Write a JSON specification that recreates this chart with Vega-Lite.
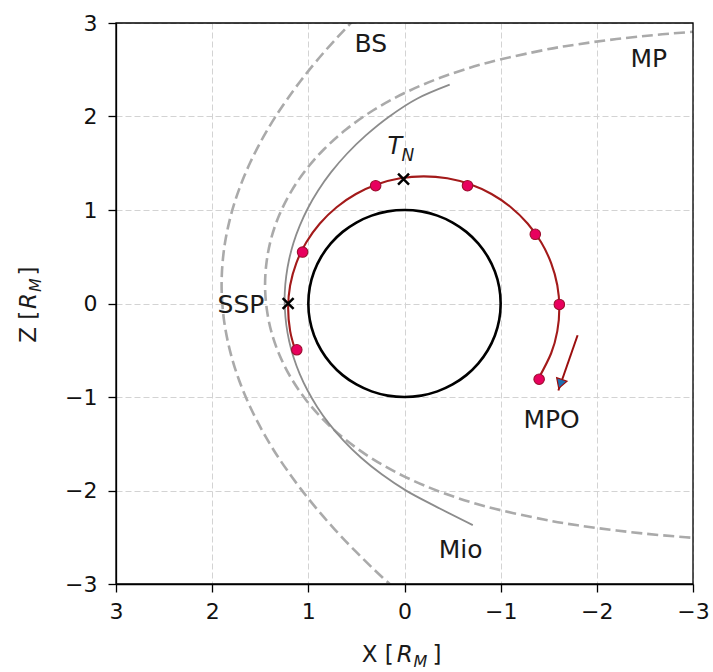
{
  "$schema": "https://vega.github.io/schema/vega-lite/v6.json",
  "width": 577,
  "height": 561,
  "autosize": {"type": "none"},
  "padding": {"left": 116, "top": 23, "right": 20, "bottom": 88},
  "background": "white",
  "view": {"stroke": null},
  "config": {
    "font": "DejaVu Sans",
    "axis": {
      "grid": true,
      "gridColor": "#d3d3d3",
      "gridDash": [6, 3],
      "gridWidth": 1,
      "domainColor": "black",
      "domainWidth": 1.3,
      "tickColor": "black",
      "tickWidth": 1.3,
      "tickSize": 8,
      "labelFont": "DejaVu Sans",
      "labelFontSize": 22,
      "labelColor": "#111111",
      "labelFlush": false,
      "labelOverlap": false,
      "title": null
    }
  },
  "datasets": {
    "frame": [{"X": 3, "X2": -3, "Z": -3, "Z2": 3}],
    "mercury": [
      {"i":0,"X":1,"Z":0},{"i":1,"X":0.985,"Z":0.174},{"i":2,"X":0.94,"Z":0.342},{"i":3,"X":0.866,"Z":0.5},
      {"i":4,"X":0.766,"Z":0.643},{"i":5,"X":0.643,"Z":0.766},{"i":6,"X":0.5,"Z":0.866},{"i":7,"X":0.342,"Z":0.94},
      {"i":8,"X":0.174,"Z":0.985},{"i":9,"X":0,"Z":1},{"i":10,"X":-0.174,"Z":0.985},{"i":11,"X":-0.342,"Z":0.94},
      {"i":12,"X":-0.5,"Z":0.866},{"i":13,"X":-0.643,"Z":0.766},{"i":14,"X":-0.766,"Z":0.643},{"i":15,"X":-0.866,"Z":0.5},
      {"i":16,"X":-0.94,"Z":0.342},{"i":17,"X":-0.985,"Z":0.174},{"i":18,"X":-1,"Z":0},{"i":19,"X":-0.985,"Z":-0.174},
      {"i":20,"X":-0.94,"Z":-0.342},{"i":21,"X":-0.866,"Z":-0.5},{"i":22,"X":-0.766,"Z":-0.643},{"i":23,"X":-0.643,"Z":-0.766},
      {"i":24,"X":-0.5,"Z":-0.866},{"i":25,"X":-0.342,"Z":-0.94},{"i":26,"X":-0.174,"Z":-0.985},{"i":27,"X":0,"Z":-1},
      {"i":28,"X":0.174,"Z":-0.985},{"i":29,"X":0.342,"Z":-0.94},{"i":30,"X":0.5,"Z":-0.866},{"i":31,"X":0.643,"Z":-0.766},
      {"i":32,"X":0.766,"Z":-0.643},{"i":33,"X":0.866,"Z":-0.5},{"i":34,"X":0.94,"Z":-0.342},{"i":35,"X":0.985,"Z":-0.174}
    ],
    "bs": [
      {"i":0,"X":-0.106,"Z":3.637},{"i":1,"X":0.226,"Z":3.333},{"i":2,"X":0.5,"Z":3.06},{"i":3,"X":0.729,"Z":2.812},
      {"i":4,"X":0.921,"Z":2.586},{"i":5,"X":1.083,"Z":2.377},{"i":6,"X":1.2215,"Z":2.182},{"i":7,"X":1.34,"Z":2.001},
      {"i":8,"X":1.441,"Z":1.83},{"i":9,"X":1.5275,"Z":1.667},{"i":10,"X":1.602,"Z":1.513},{"i":11,"X":1.665,"Z":1.365},
      {"i":12,"X":1.719,"Z":1.223},{"i":13,"X":1.765,"Z":1.086},{"i":14,"X":1.803,"Z":0.952},{"i":15,"X":1.834,"Z":0.822},
      {"i":16,"X":1.859,"Z":0.695},{"i":17,"X":1.878,"Z":0.569},{"i":18,"X":1.891,"Z":0.445},{"i":19,"X":1.899,"Z":0.322},
      {"i":20,"X":1.902,"Z":0.2},{"i":21,"X":1.899,"Z":0.078},{"i":22,"X":1.891,"Z":-0.045},{"i":23,"X":1.878,"Z":-0.169},
      {"i":24,"X":1.859,"Z":-0.295},{"i":25,"X":1.834,"Z":-0.422},{"i":26,"X":1.803,"Z":-0.552},{"i":27,"X":1.765,"Z":-0.686},
      {"i":28,"X":1.719,"Z":-0.823},{"i":29,"X":1.665,"Z":-0.965},{"i":30,"X":1.602,"Z":-1.113},{"i":31,"X":1.5275,"Z":-1.267},
      {"i":32,"X":1.441,"Z":-1.43},{"i":33,"X":1.34,"Z":-1.601},{"i":34,"X":1.2215,"Z":-1.782},{"i":35,"X":1.083,"Z":-1.977},
      {"i":36,"X":0.921,"Z":-2.186},{"i":37,"X":0.729,"Z":-2.412},{"i":38,"X":0.5,"Z":-2.66},{"i":39,"X":0.226,"Z":-2.933},
      {"i":40,"X":-0.106,"Z":-3.237}
    ],
    "mp": [
      {"i":0,"X":-3.248,"Z":2.925},{"i":1,"X":-2.679,"Z":2.879},{"i":2,"X":-2.205,"Z":2.828},{"i":3,"X":-1.801,"Z":2.772},
      {"i":4,"X":-1.45,"Z":2.711},{"i":5,"X":-0.865,"Z":2.576},{"i":6,"X":-0.392,"Z":2.422},{"i":7,"X":0,"Z":2.251},
      {"i":8,"X":0.329,"Z":2.064},{"i":9,"X":0.605,"Z":1.863},{"i":10,"X":0.837,"Z":1.65},{"i":11,"X":1.028,"Z":1.426},
      {"i":12,"X":1.182,"Z":1.192},{"i":13,"X":1.3,"Z":0.951},{"i":14,"X":1.384,"Z":0.704},{"i":15,"X":1.433,"Z":0.453},
      {"i":16,"X":1.45,"Z":0.2},{"i":17,"X":1.433,"Z":-0.053},{"i":18,"X":1.384,"Z":-0.304},{"i":19,"X":1.3,"Z":-0.551},
      {"i":20,"X":1.182,"Z":-0.792},{"i":21,"X":1.028,"Z":-1.026},{"i":22,"X":0.837,"Z":-1.25},{"i":23,"X":0.605,"Z":-1.463},
      {"i":24,"X":0.329,"Z":-1.664},{"i":25,"X":0,"Z":-1.851},{"i":26,"X":-0.392,"Z":-2.022},{"i":27,"X":-0.865,"Z":-2.176},
      {"i":28,"X":-1.45,"Z":-2.311},{"i":29,"X":-1.801,"Z":-2.372},{"i":30,"X":-2.205,"Z":-2.428},{"i":31,"X":-2.679,"Z":-2.479},
      {"i":32,"X":-3.248,"Z":-2.525}
    ],
    "mio": [
      {"i":0,"X":-0.71,"Z":-2.37},{"i":1,"X":-0.328,"Z":-2.172},{"i":2,"X":-0.021,"Z":-2.004},{"i":3,"X":0.237,"Z":-1.827},
      {"i":4,"X":0.454,"Z":-1.647},{"i":5,"X":0.634,"Z":-1.466},{"i":6,"X":0.785,"Z":-1.285},{"i":7,"X":0.908,"Z":-1.106},
      {"i":8,"X":1.009,"Z":-0.928},{"i":9,"X":1.09,"Z":-0.752},{"i":10,"X":1.153,"Z":-0.577},{"i":11,"X":1.199,"Z":-0.403},
      {"i":12,"X":1.229,"Z":-0.23},{"i":13,"X":1.244,"Z":-0.057},{"i":14,"X":1.245,"Z":0.118},{"i":15,"X":1.23,"Z":0.293},
      {"i":16,"X":1.2,"Z":0.47},{"i":17,"X":1.154,"Z":0.65},{"i":18,"X":1.089,"Z":0.833},{"i":19,"X":1.005,"Z":1.019},
      {"i":20,"X":0.898,"Z":1.209},{"i":21,"X":0.765,"Z":1.402},{"i":22,"X":0.601,"Z":1.599},{"i":23,"X":0.402,"Z":1.798},
      {"i":24,"X":0.161,"Z":1.998},{"i":25,"X":-0.13,"Z":2.19},{"i":26,"X":-0.47,"Z":2.34}
    ],
    "mpo": [
      {"i":0,"X":1.133,"Z":-0.509},{"i":1,"X":1.189,"Z":-0.295},{"i":2,"X":1.21,"Z":-0.05},{"i":3,"X":1.189,"Z":0.195},
      {"i":4,"X":1.125,"Z":0.432},{"i":5,"X":1.021,"Z":0.655},{"i":6,"X":0.88,"Z":0.856},{"i":7,"X":0.706,"Z":1.03},
      {"i":8,"X":0.505,"Z":1.171},{"i":9,"X":0.282,"Z":1.275},{"i":10,"X":0.045,"Z":1.339},{"i":11,"X":-0.2,"Z":1.36},
      {"i":12,"X":-0.445,"Z":1.339},{"i":13,"X":-0.682,"Z":1.275},{"i":14,"X":-0.905,"Z":1.171},{"i":15,"X":-1.106,"Z":1.03},
      {"i":16,"X":-1.28,"Z":0.856},{"i":17,"X":-1.421,"Z":0.655},{"i":18,"X":-1.525,"Z":0.432},{"i":19,"X":-1.589,"Z":0.195},
      {"i":20,"X":-1.61,"Z":-0.05},{"i":21,"X":-1.589,"Z":-0.295},{"i":22,"X":-1.525,"Z":-0.532},{"i":23,"X":-1.396,"Z":-0.797}
    ],
    "markers": [
      {"X":1.12,"Z":-0.495},{"X":1.06,"Z":0.55},{"X":0.3,"Z":1.26},{"X":-0.655,"Z":1.26},
      {"X":-1.36,"Z":0.74},{"X":-1.61,"Z":-0.01},{"X":-1.4,"Z":-0.81}
    ],
    "crosses": [{"name":"SSP","X":1.21,"Z":0.0},{"name":"TN","X":0.01,"Z":1.33}],
    "arrow": [{"X":-1.8,"Z":-0.34,"X2":-1.6,"Z2":-0.93}],
    "arrowhead": [{"X":-1.62,"Z":-0.86}],
    "labels": [
      {"t":"BS","X":0.35,"Z":2.78},{"t":"MP","X":-2.54,"Z":2.62},{"t":"SSP","X":1.7,"Z":-0.02},
      {"t":"MPO","X":-1.53,"Z":-1.245},{"t":"Mio","X":-0.583,"Z":-2.64}
    ],
    "tnT": [{"t":"T","X":0.1,"Z":1.67}],
    "tnN": [{"t":"N","X":-0.035,"Z":1.575}],
    "xtitleNormal": [{"t":"X [","X":0.444,"Z":-3.83},{"t":"]","X":-0.29,"Z":-3.83}],
    "xtitleR": [{"t":"R","X":0.08,"Z":-3.83}],
    "xtitleM": [{"t":"M","X":-0.093,"Z":-3.885}],
    "ytitleNormal": [{"t":"Z [","X":3.83,"Z":-0.42},{"t":"]","X":3.83,"Z":0.3}],
    "ytitleR": [{"t":"R","X":3.83,"Z":-0.058}],
    "ytitleM": [{"t":"M","X":3.785,"Z":0.122}]
  },
  "encoding": {
    "x": {
      "field": "X", "type": "quantitative",
      "scale": {"domain": [3, -3], "nice": false, "zero": false},
      "axis": {"values": [3, 2, 1, 0, -1, -2, -3], "labelPadding": 9, "format": "d"}
    },
    "y": {
      "field": "Z", "type": "quantitative",
      "scale": {"domain": [-3, 3], "nice": false, "zero": false},
      "axis": {"values": [-3, -2, -1, 0, 1, 2, 3], "labelPadding": 11, "format": "d"}
    }
  },
  "layer": [
    {"data": {"name": "bs"}, "mark": {"type": "line", "clip": true, "color": "#aaaaaa", "strokeWidth": 2.6, "strokeDash": [11, 5], "interpolate": "cardinal"},
     "encoding": {"order": {"field": "i", "type": "quantitative"}}},
    {"data": {"name": "mp"}, "mark": {"type": "line", "clip": true, "color": "#aaaaaa", "strokeWidth": 2.6, "strokeDash": [11, 5], "interpolate": "cardinal"},
     "encoding": {"order": {"field": "i", "type": "quantitative"}}},
    {"data": {"name": "mio"}, "mark": {"type": "line", "clip": true, "color": "#8c8c8c", "strokeWidth": 1.8, "interpolate": "cardinal"},
     "encoding": {"order": {"field": "i", "type": "quantitative"}}},
    {"data": {"name": "mercury"}, "mark": {"type": "line", "clip": true, "color": "black", "strokeWidth": 2.6, "interpolate": "cardinal-closed"},
     "encoding": {"order": {"field": "i", "type": "quantitative"}}},
    {"data": {"name": "mpo"}, "mark": {"type": "line", "clip": true, "color": "#a31a1a", "strokeWidth": 2.1, "interpolate": "cardinal"},
     "encoding": {"order": {"field": "i", "type": "quantitative"}}},
    {"data": {"name": "markers"}, "mark": {"type": "point", "filled": true, "fill": "#e8005e", "stroke": "#9c0f2e", "strokeWidth": 1.1, "size": 110, "opacity": 1}},
    {"data": {"name": "crosses"}, "mark": {"type": "point", "shape": "M-1,-1L1,1M-1,1L1,-1", "filled": false, "stroke": "black", "strokeWidth": 2.5, "size": 120, "opacity": 1}},
    {"data": {"name": "arrow"}, "mark": {"type": "rule", "color": "#9b0d0d", "strokeWidth": 2},
     "encoding": {"x2": {"field": "X2"}, "y2": {"field": "Z2"}}},
    {"data": {"name": "arrowhead"}, "mark": {"type": "point", "shape": "triangle-up", "filled": true, "fill": "#1f6fb0", "stroke": "#9b0d0d", "strokeWidth": 1.2, "size": 120, "angle": 199, "opacity": 1}},
    {"data": {"name": "frame"}, "mark": {"type": "rect", "fill": null, "fillOpacity": 0, "stroke": "black", "strokeWidth": 1.3},
     "encoding": {"x2": {"field": "X2"}, "y2": {"field": "Z2"}}},
    {"data": {"name": "labels"}, "mark": {"type": "text", "font": "DejaVu Sans", "fontSize": 25, "color": "#1a1a1a", "align": "center", "baseline": "middle"},
     "encoding": {"text": {"field": "t"}}},
    {"data": {"name": "tnT"}, "mark": {"type": "text", "font": "DejaVu Sans", "fontStyle": "italic", "fontSize": 24, "color": "#1a1a1a", "align": "center", "baseline": "middle"},
     "encoding": {"text": {"field": "t"}}},
    {"data": {"name": "tnN"}, "mark": {"type": "text", "font": "DejaVu Sans", "fontStyle": "italic", "fontSize": 17, "color": "#1a1a1a", "align": "center", "baseline": "middle"},
     "encoding": {"text": {"field": "t"}}},
    {"data": {"name": "xtitleNormal"}, "mark": {"type": "text", "font": "DejaVu Sans", "fontSize": 23, "color": "#1a1a1a", "align": "left", "baseline": "alphabetic"},
     "encoding": {"text": {"field": "t"}}},
    {"data": {"name": "xtitleR"}, "mark": {"type": "text", "font": "DejaVu Sans", "fontStyle": "italic", "fontSize": 23, "color": "#1a1a1a", "align": "left", "baseline": "alphabetic"},
     "encoding": {"text": {"field": "t"}}},
    {"data": {"name": "xtitleM"}, "mark": {"type": "text", "font": "DejaVu Sans", "fontStyle": "italic", "fontSize": 16, "color": "#1a1a1a", "align": "left", "baseline": "alphabetic"},
     "encoding": {"text": {"field": "t"}}},
    {"data": {"name": "ytitleNormal"}, "mark": {"type": "text", "font": "DejaVu Sans", "fontSize": 23, "color": "#1a1a1a", "align": "left", "baseline": "alphabetic", "angle": 270},
     "encoding": {"text": {"field": "t"}}},
    {"data": {"name": "ytitleR"}, "mark": {"type": "text", "font": "DejaVu Sans", "fontStyle": "italic", "fontSize": 23, "color": "#1a1a1a", "align": "left", "baseline": "alphabetic", "angle": 270},
     "encoding": {"text": {"field": "t"}}},
    {"data": {"name": "ytitleM"}, "mark": {"type": "text", "font": "DejaVu Sans", "fontStyle": "italic", "fontSize": 16, "color": "#1a1a1a", "align": "left", "baseline": "alphabetic", "angle": 270},
     "encoding": {"text": {"field": "t"}}}
  ]
}
